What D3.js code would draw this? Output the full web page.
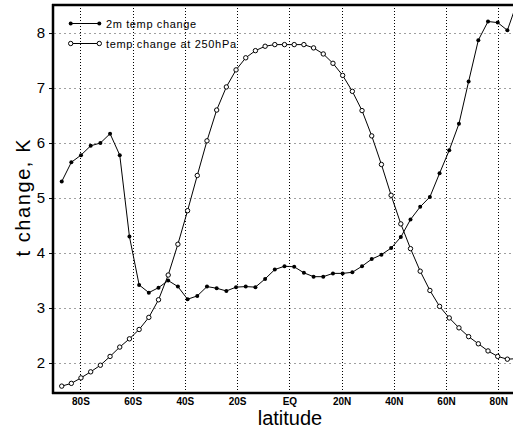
<!DOCTYPE html>
<html>
<head>
<meta charset="utf-8">
<script src="https://cdn.jsdelivr.net/npm/d3@7"></script>
<style>
  html, body { margin: 0; padding: 0; background: #fff; }
  svg { display: block; }
</style>
</head>
<body>
<svg id="chart" width="513" height="427"></svg>
<script>
// T31 Gaussian latitudes (south to north)
const latitudes = [
  -87.16, -83.48, -79.78, -76.07, -72.36, -68.65, -64.94, -61.23, -57.52, -53.81,
  -50.10, -46.39, -42.68, -38.97, -35.26, -31.54, -27.83, -24.12, -20.41, -16.70,
  -12.99, -9.28, -5.57, -1.86, 1.86, 5.57, 9.28, 12.99, 16.70, 20.41,
  24.12, 27.83, 31.54, 35.26, 38.97, 42.68, 46.39, 50.10, 53.81, 57.52,
  61.23, 64.94, 68.65, 72.36, 76.07, 79.78, 83.48, 87.16
];
const temp2m = [
  5.30, 5.65, 5.78, 5.95, 6.00, 6.17, 5.78, 4.30, 3.42, 3.28,
  3.37, 3.50, 3.39, 3.16, 3.22, 3.39, 3.36, 3.31, 3.38, 3.39,
  3.38, 3.53, 3.70, 3.76, 3.75, 3.64, 3.57, 3.57, 3.63, 3.63,
  3.65, 3.76, 3.89, 3.97, 4.09, 4.29, 4.61, 4.84, 5.02, 5.45,
  5.87, 6.35, 7.12, 7.87, 8.21, 8.19, 8.05, 8.55
];
const temp250 = [
  1.58, 1.63, 1.73, 1.84, 1.96, 2.12, 2.29, 2.44, 2.61, 2.83,
  3.15, 3.60, 4.16, 4.77, 5.41, 6.04, 6.60, 7.02, 7.33, 7.55,
  7.68, 7.76, 7.79, 7.79, 7.79, 7.79, 7.73, 7.62, 7.45, 7.23,
  6.94, 6.59, 6.13, 5.61, 5.05, 4.53, 4.08, 3.67, 3.32, 3.03,
  2.82, 2.64, 2.48, 2.35, 2.22, 2.12, 2.07, 2.08
];
const xTickValues = [-80, -60, -40, -20, 0, 20, 40, 60, 80];
const xTickLabels = ["80S", "60S", "40S", "20S", "EQ", "20N", "40N", "60N", "80N"];
const yTickValues = [2, 3, 4, 5, 6, 7, 8];
const seriesNames = ["2m temp change", "temp change at 250hPa"];

const svg = d3.select("#chart");
const pL = 53, pR = 525.7, pT = 5, pB = 393;

const x = d3.scaleLinear().domain([-90.5, 90.5]).range([pL, pR]);
const y = d3.scaleLinear().domain([1.455, 8.51]).range([pB, pT]);

svg.append("defs").append("clipPath").attr("id", "clip")
  .append("rect").attr("x", pL).attr("y", pT).attr("width", pR - pL).attr("height", pB - pT);

// horizontal grid (gray dotted)
svg.append("g").selectAll("line").data(yTickValues).join("line")
  .attr("x1", pL + 1).attr("x2", 513)
  .attr("y1", d => Math.round(y(d)) + 0.5).attr("y2", d => Math.round(y(d)) + 0.5)
  .attr("stroke", "#a0a0a0").attr("stroke-width", 1)
  .attr("stroke-dasharray", "2,3");

// vertical grid (black dotted)
svg.append("g").selectAll("line").data(xTickValues).join("line")
  .attr("x1", d => Math.round(x(d)) + 0.5).attr("x2", d => Math.round(x(d)) + 0.5)
  .attr("y1", pT).attr("y2", pB)
  .attr("stroke", "#000").attr("stroke-width", 1)
  .attr("stroke-dasharray", "1,2");

// Axes
const yAxis = d3.axisLeft(y).tickValues(yTickValues).tickSize(4).tickPadding(4).tickFormat(d3.format("d"));
const gy = svg.append("g").attr("transform", `translate(${pL},0)`).call(yAxis);
gy.select(".domain").remove();
gy.selectAll(".tick line").attr("stroke", "#000").attr("stroke-width", 1);
gy.selectAll(".tick text").attr("font-family", "Liberation Sans, Arial, sans-serif")
  .attr("font-size", 15).attr("fill", "#000");

const xAxis = d3.axisBottom(x).tickValues(xTickValues).tickSize(0).tickPadding(5)
  .tickFormat((d, i) => xTickLabels[i]);
const gx = svg.append("g").attr("transform", `translate(0,${pB})`).call(xAxis);
gx.select(".domain").remove();
gx.selectAll(".tick text").attr("font-family", "Liberation Sans, Arial, sans-serif")
  .attr("font-size", 10).attr("font-weight", "bold").attr("fill", "#000");

// frame lines
svg.append("line").attr("x1", pL).attr("x2", pL).attr("y1", pT - 1).attr("y2", pB + 1)
  .attr("stroke", "#000").attr("stroke-width", 2.5);
svg.append("line").attr("x1", pL - 1).attr("x2", 513).attr("y1", pB).attr("y2", pB)
  .attr("stroke", "#000").attr("stroke-width", 2.5);
svg.append("line").attr("x1", pL - 1).attr("x2", 513).attr("y1", pT).attr("y2", pT)
  .attr("stroke", "#000").attr("stroke-width", 2.5);

// Series
const plot = svg.append("g").attr("clip-path", "url(#clip)");
const line = d3.line().x(d => x(d[0])).y(d => y(d[1]));
const s1 = latitudes.map((l, i) => [l, temp2m[i]]);
const s2 = latitudes.map((l, i) => [l, temp250[i]]);

plot.append("path").attr("d", line(s2)).attr("fill", "none").attr("stroke", "#000").attr("stroke-width", 1);
plot.append("path").attr("d", line(s1)).attr("fill", "none").attr("stroke", "#000").attr("stroke-width", 1);

plot.append("g").selectAll("circle").data(s2).join("circle")
  .attr("cx", d => x(d[0])).attr("cy", d => y(d[1])).attr("r", 2.2)
  .attr("fill", "#fff").attr("stroke", "#000").attr("stroke-width", 1);
plot.append("g").selectAll("circle").data(s1).join("circle")
  .attr("cx", d => x(d[0])).attr("cy", d => y(d[1])).attr("r", 2)
  .attr("fill", "#000");

// Axis titles
svg.append("text").attr("x", 290).attr("y", 424.5).attr("text-anchor", "middle")
  .attr("font-family", "Liberation Sans, Arial, sans-serif").attr("font-size", 20)
  .attr("fill", "#000").text("latitude");
svg.append("text").attr("transform", "translate(30,198) rotate(-90)").attr("text-anchor", "middle")
  .attr("font-family", "Liberation Sans, Arial, sans-serif").attr("font-size", 20)
  .attr("textLength", 117).attr("lengthAdjust", "spacing")
  .attr("fill", "#000").text("t change, K");

// Legend
const legend = svg.append("g");
const legY = [23.5, 43.5];
legend.selectAll("line").data(seriesNames).join("line")
  .attr("x1", 70.7).attr("x2", 99.3).attr("y1", (d, i) => legY[i]).attr("y2", (d, i) => legY[i])
  .attr("stroke", "#000").attr("stroke-width", 1);
[70.7, 99.3].forEach(cx => {
  legend.append("circle").attr("cx", cx).attr("cy", legY[0]).attr("r", 2).attr("fill", "#000");
  legend.append("circle").attr("cx", cx).attr("cy", legY[1]).attr("r", 2.2)
    .attr("fill", "#fff").attr("stroke", "#000").attr("stroke-width", 1);
});
const legWidths = [90, 130];
legend.selectAll("text").data(seriesNames).join("text")
  .attr("x", 106).attr("y", (d, i) => legY[i] + 4)
  .attr("font-family", "Liberation Sans, Arial, sans-serif").attr("font-size", 11)
  .attr("textLength", (d, i) => legWidths[i]).attr("lengthAdjust", "spacing")
  .attr("fill", "#000").text(d => d);
</script>
</body>
</html>
